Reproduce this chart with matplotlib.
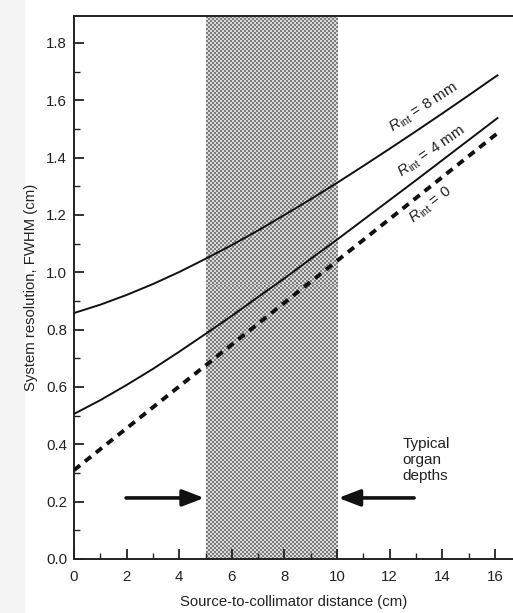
import numpy as np
import matplotlib
matplotlib.use("Agg")
import matplotlib.pyplot as plt

plt.rcParams['font.family'] = ['Liberation Sans', 'DejaVu Sans']
plt.rcParams['mathtext.fontset'] = 'custom'
plt.rcParams['mathtext.rm'] = 'Liberation Sans'
plt.rcParams['mathtext.it'] = 'Liberation Sans:italic'

# Data
distance = [0, 1, 2, 3, 4, 5, 6, 7, 8, 9, 10, 11, 12, 13, 14, 15, 16, 16.1]
r_int_0 = [0.31, 0.383, 0.456, 0.529, 0.602, 0.675, 0.748, 0.821, 0.894, 0.967,
           1.04, 1.113, 1.186, 1.259, 1.332, 1.405, 1.478, 1.485]
r_int_4 = [0.506, 0.554, 0.607, 0.663, 0.723, 0.785, 0.848, 0.914, 0.979, 1.047,
           1.114, 1.183, 1.252, 1.321, 1.391, 1.461, 1.531, 1.538]
r_int_8 = [0.858, 0.887, 0.921, 0.959, 1.001, 1.047, 1.095, 1.146, 1.200, 1.255,
           1.312, 1.371, 1.431, 1.492, 1.554, 1.617, 1.681, 1.687]
organ_depth = [5, 10]

fig = plt.figure(figsize=(5.13, 6.13), dpi=100)
fig.patch.set_facecolor('white')
# faint scan shadow at left edge
fig.patches.append(plt.Rectangle((0, 0), 24/513, 1, transform=fig.transFigure,
                                 color='#f4f4f4', zorder=-10))

ax = fig.add_axes([74/513, 54/613, (513-74)/513, (559-16)/613])
ax.set_xlim(0, 16.69)
ax.set_ylim(0, 1.894)

# checkered shaded region
nx, ny = 66, 272
checker = (np.add.outer(np.arange(ny), np.arange(nx)) % 2).astype(float)
ax.imshow(checker, cmap=matplotlib.colors.ListedColormap(['#7e7e7e', '#d8d8d8']),
          extent=[organ_depth[0], organ_depth[1], 0, 1.894], aspect='auto',
          interpolation='nearest', zorder=0)

ax.plot(distance, r_int_8, color='#111111', lw=1.4, zorder=3)
ax.plot(distance, r_int_4, color='#111111', lw=1.4, zorder=3)
ax.plot(distance, r_int_0, color='#111111', lw=2.8, dashes=(2.0, 1.6), zorder=3)

tk = dict(fontsize=11, color='#222222', ha='center', va='center')
ax.text(13.3, 1.575, r'$R_{\rm int}$ = 8 mm', rotation=33, **tk)
ax.text(13.6, 1.42, r'$R_{\rm int}$ = 4 mm', rotation=35, **tk)
ax.text(13.55, 1.235, r'$R_{\rm int}$ = 0', rotation=38, **tk)

arrow = dict(arrowstyle='-|>,head_length=1.3,head_width=0.5', lw=2.6, color='#111111',
             shrinkA=0, shrinkB=0)
ax.annotate('', xy=(4.95, 0.213), xytext=(1.98, 0.213), arrowprops=arrow, zorder=4)
ax.annotate('', xy=(10.05, 0.213), xytext=(12.93, 0.213), arrowprops=arrow, zorder=4)
ax.text(12.5, 0.345, 'Typical\norgan\ndepths', fontsize=11, color='#222222',
        ha='left', va='center', linespacing=1.2)

ax.spines['right'].set_visible(False)
for s in ['left', 'bottom', 'top']:
    ax.spines[s].set_linewidth(1.4)
    ax.spines[s].set_color('#222222')

ax.set_xticks(np.arange(0, 17, 2))
ax.set_xticks(np.arange(1, 17, 2), minor=True)
ax.set_yticks(np.round(np.arange(0, 1.81, 0.2), 1))
ax.set_yticks(np.round(np.arange(0.1, 1.81, 0.2), 1), minor=True)
ax.set_yticklabels([f'{v:.1f}' for v in np.arange(0, 1.81, 0.2)])
ax.tick_params(which='both', direction='in', color='#222222', labelsize=10.8,
               labelcolor='#222222', top=False, right=False)
ax.tick_params(which='major', length=7, width=1.3)
ax.tick_params(which='minor', length=4, width=1.0)
ax.tick_params(axis='x', which='major', pad=8)
ax.tick_params(axis='y', which='major', pad=5)

ax.set_xlabel('Source-to-collimator distance (cm)', fontsize=10.7, color='#222222', labelpad=8)
ax.set_ylabel('System resolution, FWHM (cm)', fontsize=10.7, color='#222222', labelpad=6)

fig.savefig('out.png', dpi=100)
